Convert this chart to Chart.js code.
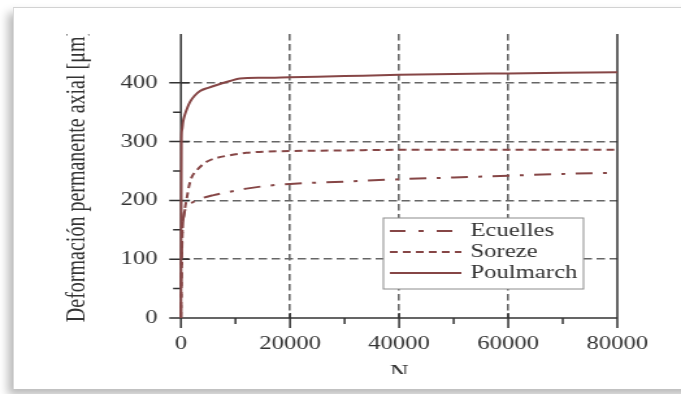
<!DOCTYPE html>
<html>
<head>
<meta charset="utf-8">
<script src="https://cdn.jsdelivr.net/npm/chart.js@4.4.0/dist/chart.umd.min.js"></script>
<style>
  html, body { margin: 0; padding: 0; background: #fff; }
  body { width: 681px; height: 394px; overflow: hidden; position: relative; }
  .card { position: absolute; left: 13px; top: 7px; width: 700px; height: 381px; background: #fff;
          border-top: 1px solid #d2d2d2; border-left: 1px solid #dadada; box-shadow: -5px 6px 9px rgba(0,0,0,0.28); }
  .stretch { position: absolute; left: 0; top: 0; width: 524px; height: 394px; transform: scaleX(1.2996); transform-origin: 0 0; }
  .cut-top { position: absolute; left: 14px; top: 8px; width: 140px; height: 26px; background: #fff; }
  .cut-bottom { position: absolute; left: 14px; top: 374px; width: 667px; height: 13px; background: #fff; }
</style>
</head>
<body>
<div class="card"></div>
<div class="stretch"><canvas id="chart" width="524" height="394"></canvas></div>
<div class="cut-top"></div>
<div class="cut-bottom"></div>
<script>
// number of cycles N and axial permanent strain (µm)
const ecuellesN = [0, 100, 200, 350, 600, 1000, 2000, 3000, 4000, 6000, 8000, 12000, 16000, 20000, 30000, 40000, 50000, 60000, 70000, 80000];
const ecuellesVals = [0, 80, 130, 160, 178, 189, 196, 200, 204, 209, 213, 220, 225, 228, 232, 236, 239, 242, 245, 247];

const sorezeN = [0, 100, 200, 350, 550, 800, 1100, 1500, 2000, 3000, 4000, 5000, 6500, 8500, 12000, 16000, 20000, 30000, 40000, 60000, 80000];
const sorezeVals = [0, 60, 120, 160, 175, 190, 205, 225, 240, 252, 261, 267, 272, 276, 281, 283, 284, 285, 286, 286, 286];

const poulmarchN = [0, 100, 200, 400, 700, 1200, 1700, 2500, 3500, 5000, 7000, 9000, 10800, 15000, 20000, 30000, 40000, 50000, 60000, 70000, 80000];
const poulmarchVals = [0, 305, 320, 334, 345, 358, 368, 378, 386, 391.5, 397.5, 403, 407.5, 408.5, 409.5, 411.5, 413.5, 415, 416, 417, 418];

const xGridValues = [20000, 40000, 60000];
const yGridValues = [100, 200, 300, 400];

const lineColor = '#864646';
const gridColor = '#666';
const textColor = '#333';
const tickFont = { family: '"Liberation Serif", "Times New Roman", serif', size: 19 };
const titleFont = { family: '"Liberation Serif", "Times New Roman", serif', size: 20 };

const toPoints = (xs, ys) => xs.map((x, i) => ({ x, y: ys[i] }));

const axisFrame = {
    id: 'axisFrame',
    beforeDatasetsDraw(chart) {
        const { ctx, chartArea: a, scales: { x, y } } = chart;
        ctx.save();
        ctx.strokeStyle = '#333';
        ctx.lineWidth = 1.5;
        ctx.beginPath();
        ctx.moveTo(a.left, a.top);
        ctx.lineTo(a.left, a.bottom);
        ctx.lineTo(a.right, a.bottom);
        ctx.moveTo(a.right, a.top);
        ctx.lineTo(a.right, a.bottom);
        y.ticks.forEach(t => {
            if (t.value % 50) return;
            const py = y.getPixelForValue(t.value);
            const major = t.value % 100 === 0;
            ctx.moveTo(a.left - (major ? 9 : 6), py);
            ctx.lineTo(a.left + (major ? 7 : 0), py);
        });
        x.ticks.forEach(t => {
            if (t.value % 10000) return;
            const px = x.getPixelForValue(t.value);
            const major = t.value % 20000 === 0;
            ctx.moveTo(px, a.bottom - (major ? 5 : 0));
            ctx.lineTo(px, a.bottom + (major ? 10 : 6));
        });
        ctx.stroke();
        ctx.restore();
    }
};

const boxLegend = {
    id: 'boxLegend',
    afterDraw(chart, args, opts) {
        const { ctx } = chart;
        ctx.save();
        ctx.fillStyle = '#fff';
        ctx.fillRect(opts.x, opts.y, opts.w, opts.h);
        ctx.strokeStyle = '#8c8c8c';
        ctx.lineWidth = 1;
        ctx.strokeRect(opts.x, opts.y, opts.w, opts.h);
        chart.data.datasets.forEach((ds, i) => {
            const cy = opts.y + 13 + i * 21;
            ctx.strokeStyle = ds.borderColor;
            ctx.lineWidth = ds.borderWidth;
            ctx.setLineDash(ds.legendDash || []);
            ctx.beginPath();
            ctx.moveTo(opts.x + 5, cy);
            ctx.lineTo(opts.x + 60, cy);
            ctx.stroke();
            ctx.setLineDash([]);
            ctx.fillStyle = textColor;
            ctx.font = '19px "Liberation Serif", "Times New Roman", serif';
            ctx.textBaseline = 'middle';
            ctx.fillText(ds.label, opts.x + 67, cy);
        });
        ctx.restore();
    }
};

const ctx = document.getElementById('chart').getContext('2d');
new Chart(ctx, {
    type: 'line',
    data: {
        datasets: [
            {
                label: 'Ecuelles',
                data: toPoints(ecuellesN, ecuellesVals),
                borderColor: lineColor,
                borderWidth: 2,
                borderDash: [13, 8, 3, 8],
                legendDash: [12, 10, 4, 10],
            },
            {
                label: 'Soreze',
                data: toPoints(sorezeN, sorezeVals),
                borderColor: lineColor,
                borderWidth: 2,
                borderDash: [6, 4],
                legendDash: [6, 4],
            },
            {
                label: 'Poulmarch',
                data: toPoints(poulmarchN, poulmarchVals),
                borderColor: lineColor,
                borderWidth: 2,
            },
        ],
    },
    options: {
        responsive: false,
        animation: false,
        events: [],
        layout: { padding: { top: 34, right: 49, left: 0, bottom: 0 } },
        elements: {
            point: { radius: 0 },
            line: { cubicInterpolationMode: 'monotone', fill: false },
        },
        datasets: { line: { clip: false } },
        plugins: {
            legend: { display: false },
            tooltip: { enabled: false },
            boxLegend: { x: 295, y: 218, w: 154, h: 71 },
        },
        scales: {
            x: {
                type: 'linear',
                min: 0,
                max: 80000,
                afterFit: s => { s.height = 76; },
                grid: {
                    drawTicks: false,
                    lineWidth: 1.6,
                    color: c => xGridValues.includes(c.tick.value) ? gridColor : 'rgba(0,0,0,0)',
                },
                border: { display: false, dash: [6.5, 3.5] },
                ticks: {
                    stepSize: 10000,
                    autoSkip: false,
                    maxRotation: 0,
                    padding: 15,
                    font: tickFont,
                    color: textColor,
                    callback: v => v % 20000 === 0 ? String(v) : '',
                },
                title: { display: true, text: 'N', font: titleFont, color: textColor, padding: { top: 0, bottom: 8 } },
            },
            y: {
                min: 0,
                max: 483,
                afterFit: s => { s.width = 139.2; },
                grid: {
                    drawTicks: false,
                    lineWidth: 1.6,
                    color: c => yGridValues.includes(c.tick.value) ? gridColor : 'rgba(0,0,0,0)',
                },
                border: { display: false, dash: [6.5, 3.5] },
                ticks: {
                    stepSize: 50,
                    autoSkip: false,
                    padding: 18,
                    font: tickFont,
                    color: textColor,
                    callback: v => v % 100 === 0 ? String(v) : '',
                },
                title: {
                    display: true,
                    text: 'Deformación permanente axial [μm]',
                    font: titleFont,
                    color: textColor,
                    padding: { top: 48, bottom: 0 },
                },
            },
        },
    },
    plugins: [axisFrame, boxLegend],
});
</script>
</body>
</html>
